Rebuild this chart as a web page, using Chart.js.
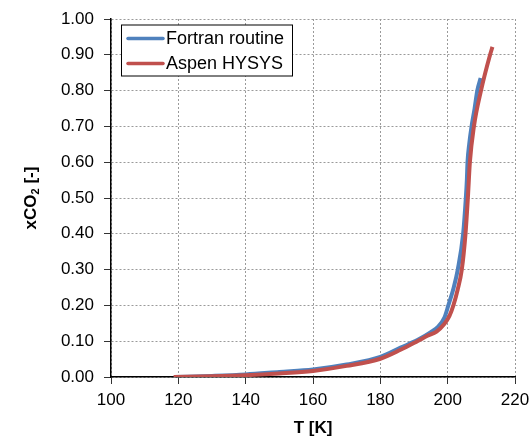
<!DOCTYPE html>
<html>
<head>
<meta charset="utf-8">
<script src="https://cdn.jsdelivr.net/npm/chart.js@4.4.0/dist/chart.umd.min.js"></script>
<style>
  html, body { margin: 0; padding: 0; background: #fff; }
  #wrap { width: 531px; height: 438px; }
</style>
</head>
<body>
<div id="wrap"><canvas id="c" width="531" height="438"></canvas></div>
<script>
// ── Data ────────────────────────────────────────────────────────────────────
const fortranT = [119, 130, 140, 150, 160, 170, 180, 186, 191, 195, 197.2, 199, 200.2, 201.8, 203.0, 204.6, 205.4, 205.7, 205.9, 206.4, 207.1, 208.0, 208.8, 209.8];
const fortranX = [0.000, 0.003, 0.007, 0.014, 0.021, 0.035, 0.056, 0.082, 0.103, 0.125, 0.141, 0.165, 0.200, 0.250, 0.300, 0.400, 0.500, 0.550, 0.600, 0.650, 0.700, 0.750, 0.800, 0.835];

const hysysT = [118.6, 130, 140, 150, 160, 170, 180, 186, 191, 194, 196.7, 199, 200.5, 201.7, 203.0, 204.2, 205.3, 206.0, 206.6, 207.8, 209.9, 212.6, 213.3];
const hysysX = [0.000, 0.002, 0.005, 0.010, 0.017, 0.031, 0.051, 0.076, 0.100, 0.115, 0.127, 0.148, 0.170, 0.200, 0.245, 0.300, 0.400, 0.500, 0.600, 0.700, 0.800, 0.900, 0.922];

const seriesNames = ['Fortran routine', 'Aspen HYSYS'];
const seriesColors = ['#4F81BD', '#C0504D'];

const xTitle = 'T [K]';
const yTitle = ['xCO', '2', ' [-]'];   // main, subscript, rest

const FONT = "'Liberation Sans', Arial, sans-serif";

const pts = (xs, ys) => xs.map((x, i) => ({ x: x, y: ys[i] }));

// ── Titles + boxed legend drawn on the canvas ───────────────────────────────
const decor = {
  id: 'decor',
  afterDraw(chart) {
    const ctx = chart.ctx;
    const a = chart.chartArea;
    ctx.save();
    ctx.fillStyle = '#000';

    // x title
    ctx.font = 'bold 17px ' + FONT;
    ctx.textAlign = 'center';
    ctx.textBaseline = 'middle';
    ctx.fillText(xTitle, (a.left + a.right) / 2, 428);

    // y title with subscript
    ctx.save();
    ctx.translate(31, (a.top + a.bottom) / 2);
    ctx.rotate(-Math.PI / 2);
    ctx.textAlign = 'left';
    ctx.font = 'bold 17px ' + FONT;
    const w0 = ctx.measureText(yTitle[0]).width;
    const w2 = ctx.measureText(yTitle[2]).width;
    ctx.font = 'bold 11px ' + FONT;
    const w1 = ctx.measureText(yTitle[1]).width;
    let x = -(w0 + w1 + w2) / 2;
    ctx.font = 'bold 17px ' + FONT;
    ctx.fillText(yTitle[0], x, 0);
    x += w0;
    ctx.font = 'bold 11px ' + FONT;
    ctx.fillText(yTitle[1], x, 5);
    x += w1;
    ctx.font = 'bold 17px ' + FONT;
    ctx.fillText(yTitle[2], x, 0);
    ctx.restore();

    // legend box
    const bx = 121.5, by = 25, bw = 171, bh = 51;
    ctx.fillStyle = '#fff';
    ctx.fillRect(bx, by, bw, bh);
    ctx.strokeStyle = '#000';
    ctx.lineWidth = 1;
    ctx.strokeRect(bx, by, bw, bh);
    ctx.font = '18px ' + FONT;
    ctx.textAlign = 'left';
    ctx.textBaseline = 'middle';
    chart.data.datasets.forEach((ds, i) => {
      const y = 38.5 + i * 25;
      ctx.strokeStyle = ds.borderColor;
      ctx.lineWidth = 3.5;
      ctx.lineCap = 'round';
      ctx.beginPath();
      ctx.moveTo(128, y);
      ctx.lineTo(163, y);
      ctx.stroke();
      ctx.fillStyle = '#000';
      ctx.fillText(ds.label, 166, y + 1);
    });
    ctx.restore();
  }
};

const GRID = { color: '#9a9a9a', lineWidth: 1, tickColor: '#333', tickLength: 7 };
const BORDER = { color: '#000', width: 1.5, dash: [2, 2] };
const TICKS = { color: '#000', font: { family: FONT, size: 17 } };

new Chart(document.getElementById('c'), {
  type: 'line',
  data: {
    datasets: [
      {
        label: seriesNames[0],
        data: pts(fortranT, fortranX),
        borderColor: seriesColors[0],
        borderWidth: 4,
        pointRadius: 0,
        cubicInterpolationMode: 'monotone',
        fill: false,
        order: 2
      },
      {
        label: seriesNames[1],
        data: pts(hysysT, hysysX),
        borderColor: seriesColors[1],
        borderWidth: 4,
        pointRadius: 0,
        cubicInterpolationMode: 'monotone',
        fill: false,
        order: 1
      }
    ]
  },
  options: {
    responsive: false,
    animation: false,
    layout: { padding: { top: 19, right: 16, left: 0, bottom: 0 } },
    plugins: { legend: { display: false }, tooltip: { enabled: false } },
    scales: {
      x: {
        type: 'linear', min: 100, max: 220,
        grid: GRID, border: BORDER,
        ticks: { ...TICKS, stepSize: 20, padding: 6, maxRotation: 0 },
        afterFit: s => { s.height = 61; s.paddingLeft = 0; s.paddingRight = 0; }
      },
      y: {
        type: 'linear', min: 0, max: 1,
        grid: GRID, border: BORDER,
        ticks: { ...TICKS, stepSize: 0.1, padding: 10, callback: v => v.toFixed(2) },
        afterFit: s => { s.width = 111; s.paddingTop = 0; s.paddingBottom = 0; }
      }
    }
  },
  plugins: [decor]
});
</script>
</body>
</html>
